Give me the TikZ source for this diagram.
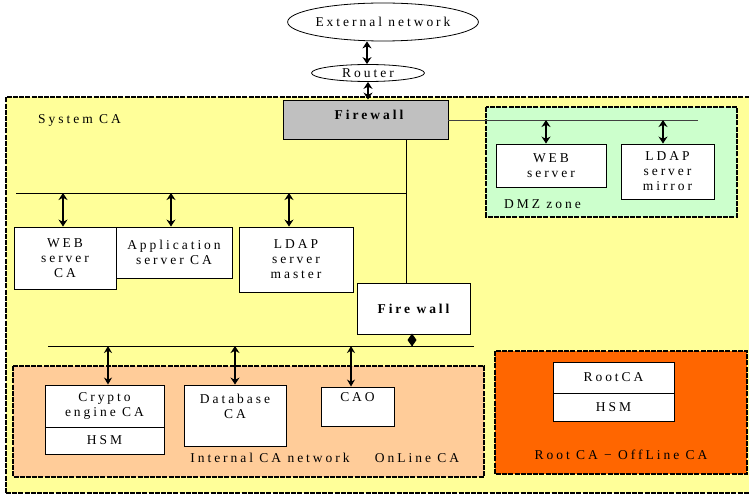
\documentclass[tikz,border=0pt]{standalone}
\usepackage{fontspec}
\setmainfont{Liberation Serif}[LetterSpace=22]
\usetikzlibrary{shapes.geometric,arrows.meta}
\definecolor{sysyellow}{HTML}{FFFF99}
\definecolor{dmzgreen}{HTML}{CCFFCC}
\definecolor{peach}{HTML}{FFCC99}
\definecolor{rootorange}{HTML}{FF6600}
\definecolor{fwgray}{HTML}{C0C0C0}
\tikzset{
  txt/.style={font=\fontsize{13.5}{15}\selectfont, text=black},
  box/.style={txt, draw=black, line width=0.9pt, fill=white, align=center, inner sep=0pt},
  cloud/.style={txt, ellipse, draw=black, line width=0.8pt, fill=white, inner sep=0pt},
  grp/.style={line width=1.3pt, dash pattern=on 5pt off 1.2pt},
  bus/.style={line width=0.8pt, draw=black},
  dbl/.style={line width=2.2pt, {Stealth[length=7pt,width=9pt]}-{Stealth[length=7pt,width=9pt]}},
  dblthin/.style={line width=1.3pt, {Stealth[length=7pt,width=8pt]}-{Stealth[length=7pt,width=8pt]}},
  lbl/.style={txt, inner sep=0pt}
}
\begin{document}
\begin{tikzpicture}[x=1pt,y=-1pt]
\useasboundingbox (0,0) rectangle (749,497);
% group areas
\path[fill=sysyellow] (6,97) rectangle (752,493);
\draw[grp] (6,493) -- (6,97) -- (752,97);
\draw[grp] (6,493) -- (752,493);
\path[fill=dmzgreen] (486,107) rectangle (737,217);
\draw[grp] (486,107) rectangle (737,217);
\path[fill=peach] (13,366) rectangle (484,477);
\draw[grp] (13,366) rectangle (484,477);
\path[fill=rootorange] (495,351) rectangle (747,474);
\draw[grp] (495,351) rectangle (747,474);

% nodes
\node[cloud, minimum width=174pt, minimum height=38pt] (ext) at (383,22) {External network};
\node[cloud, minimum width=113pt, minimum height=17pt] (router) at (368,73) {Router};
\node[box, fill=fwgray, minimum width=165pt, minimum height=39pt] (fw1) at (365.5,119.5) {};
\node[lbl, font=\fontsize{13.5}{15}\selectfont\bfseries] (fw1t) at (369,115) {Firewall};

\node[box, minimum width=110pt, minimum height=43pt] (webdmz) at (551,165.5) {WEB\\server};
\node[box, minimum width=93pt, minimum height=55pt] (ldapm) at (667.5,171.5) {LDAP\\server\\mirror};

\node[box, minimum width=102pt, minimum height=62pt] (websca) at (65,258) {WEB\\server\\CA};
\node[box, minimum width=116pt, minimum height=51pt] (appca) at (174,252.5) {Application\\server CA};
\node[box, minimum width=114pt, minimum height=65pt] (ldapmaster) at (296,259.5) {LDAP\\server\\master};
\node[box, minimum width=113pt, minimum height=51pt, font=\fontsize{13.5}{15}\selectfont\bfseries] (fw2) at (413.5,308.5) {Fire wall};

\node[box, minimum width=119pt, minimum height=42pt] (crypto) at (104.5,406) {Crypto\\engine CA};
\node[box, minimum width=119pt, minimum height=27pt] (hsm1) at (104.5,440.5) {HSM};
\node[box, minimum width=102pt, minimum height=61pt] (db) at (235,415.5) {Database\\CA\\[4pt]};
\node[box, minimum width=73pt, minimum height=39pt] (cao) at (357.5,406.5) {CAO\\[4pt]};

\node[box, minimum width=121pt, minimum height=31pt] (rootca) at (613.5,377.5) {RootCA};
\node[box, minimum width=121pt, minimum height=28pt] (hsm2) at (613.5,407) {HSM};

% labels
\node[lbl, anchor=west] (sysl) at (38,120) {System CA};
\node[lbl, anchor=west] (dmzl) at (504,204) {DMZ zone};
\node[lbl] (intl) at (270,458) {Internal CA network};
\node[lbl] (onl) at (417,458) {OnLine CA};
\node[lbl] (rootl) at (621,455) {Root CA − OffLine CA};

% connectors to outside
\draw[dbl] (ext.south -| 367,0) -- (router.north -| 367,0);
\draw[dbl] (router.south) -- (fw1.north -| router.south);

% DMZ bus
\coordinate (dmzend) at (698,120);
\draw[bus, draw=black!75] (fw1.east |- dmzend) -- (dmzend);
\coordinate (d1) at (546,120);
\coordinate (d2) at (663,120);
\draw[dbl] (d1) -- (d1 |- webdmz.north);
\draw[dbl] (d2) -- (d2 |- ldapm.north);

% trunk from firewall 1 to firewall 2
\coordinate (trunk) at (406,193);
\draw[bus] (fw1.south -| trunk) -- (fw2.north -| trunk);
\coordinate (busAstart) at (16,193);
\draw[bus] (busAstart) -- (trunk);
\coordinate (a1) at (63,193);
\coordinate (a2) at (171,193);
\coordinate (a3) at (289,193);
\draw[dbl] (a1) -- (a1 |- websca.north);
\draw[dbl] (a2) -- (a2 |- appca.north);
\draw[dbl] (a3) -- (a3 |- ldapmaster.north);

% internal bus
\coordinate (busBstart) at (48,346);
\coordinate (busBend) at (474,346);
\draw[bus] (busBstart) -- (busBend);
\coordinate (fwlink) at (412,346);
\draw[line width=1pt] (fw2.south -| fwlink) -- (fwlink);
\fill (412,333.5) -- (416.5,340) -- (412,346.5) -- (407.5,340) -- cycle;
\coordinate (c1) at (108,346);
\coordinate (c2) at (235,346);
\coordinate (c3) at (351,346);
\draw[dblthin] (c1) -- (c1 |- crypto.north);
\draw[dbl] (c2) -- (c2 |- db.north);
\draw[dblthin] (c3) -- (c3 |- cao.north);
\end{tikzpicture}
\end{document}
